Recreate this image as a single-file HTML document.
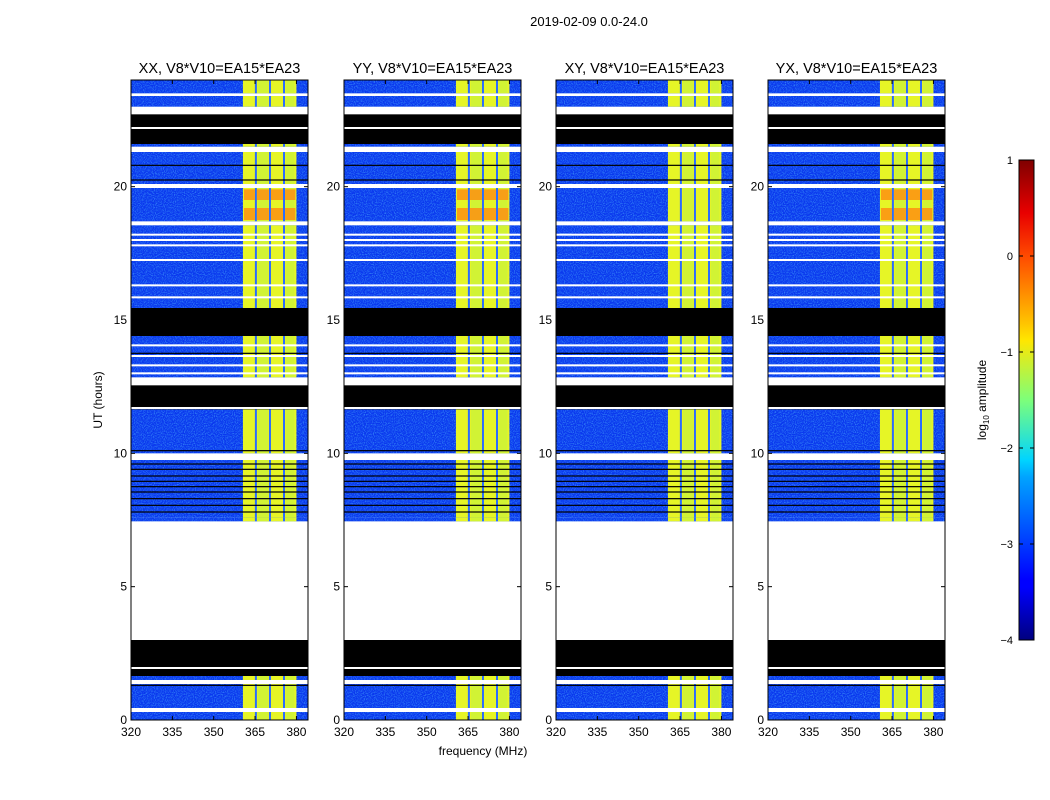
<!DOCTYPE html>
<html><head><meta charset="utf-8"><style>
body{margin:0;background:#fff;}
svg{display:block;font-family:"Liberation Sans",sans-serif;}
</style></head><body>
<svg id="fig" width="1050" height="800" viewBox="0 0 1050 800" xmlns="http://www.w3.org/2000/svg">
<defs>
<filter id="noise" x="0" y="0" width="100%" height="100%">
<feTurbulence type="fractalNoise" baseFrequency="0.9" numOctaves="1" seed="3" result="t"/>
<feColorMatrix type="matrix" values="0 0 0 0 0.1  0 0 0 0 0.6  0 0 0 0 1  0 0 0 1.4 -0.6"/>
</filter>
<linearGradient id="jet" x1="0" y1="1" x2="0" y2="0">
<stop offset="0" stop-color="#00007f"/><stop offset="0.11" stop-color="#0000ff"/>
<stop offset="0.125" stop-color="#0000ff"/><stop offset="0.34" stop-color="#00a4ff"/>
<stop offset="0.375" stop-color="#00d4ff"/><stop offset="0.5" stop-color="#7dff7a"/>
<stop offset="0.625" stop-color="#ffe600"/><stop offset="0.66" stop-color="#ffc400"/>
<stop offset="0.8" stop-color="#ff4a00"/><stop offset="0.89" stop-color="#e80000"/>
<stop offset="1" stop-color="#7f0000"/>
</linearGradient>
</defs>
<text x="589" y="26" font-size="13" text-anchor="middle">2019-02-09 0.0-24.0</text>
<text x="483" y="755" font-size="12" text-anchor="middle">frequency (MHz)</text>
<text transform="translate(102,400) rotate(-90)" font-size="12" text-anchor="middle">UT (hours)</text>
<g id="panels"></g>
<g id="cbar"></g>
</svg>
<script>
// ---- data ----
const panelTitles = ["XX, V8*V10=EA15*EA23","YY, V8*V10=EA15*EA23","XY, V8*V10=EA15*EA23","YX, V8*V10=EA15*EA23"];
const panelLefts = [131, 344, 556, 768];
const yTicks = [0,5,10,15,20];
const xTicks = [320,335,350,365,380];
// time segments [startHour, endHour, type]
const segStart = [0,0.3,0.45,1.35,1.5,1.65,3.0,7.45,7.6,9.75,10.0,11.65,12.55,12.85,14.4,15.45,18.55,18.7,19.95,20.1,21.3,21.5,21.6,22.75,23.0,23.4,23.5];
const segEnd   = [0.3,0.45,1.35,1.5,1.65,3.0,7.45,7.6,9.75,10.0,11.65,12.55,12.85,14.4,15.45,18.55,18.7,19.95,20.1,21.3,21.5,21.6,22.75,23.0,23.4,23.5,24];
const segType  = ["d","w","d","w","d","b","w","d","d","w","d","b","w","d","b","d","w","d","w","d","w","d","b","w","d","w","d"];
const whiteLines = [1.95,11.7,12.6,13.0,13.3,13.65,14.05,15.85,16.3,17.25,17.8,18.0,18.2,22.2,22.75];
const blackLines = [1.3,7.8,8.05,8.3,8.55,8.75,8.95,9.15,9.4,9.6,10.1,20.25,20.8,13.75];
const bandStart = 360.6, bandEnd = 380.0;
const bandDividers = [365.3, 370.4, 375.5];
const hotStart = [18.75, 19.5];
const hotEnd = [19.2, 19.9];
const hotPanels = [[0,1,3],[0,1,3]];
const fMin = 320, fMax = 384.2, hMin = 0, hMax = 24;
// ---- axes ----
const plotTop = 80, plotBottom = 720, pw = 177;
function yOf(h){ return plotBottom - (h-hMin)/(hMax-hMin)*(plotBottom-plotTop); }
function xOf(f, left){ return left + (f-fMin)/(fMax-fMin)*pw; }
const NS = "http://www.w3.org/2000/svg";
function mk(tag, attrs, parent){ const e=document.createElementNS(NS,tag); for(const k in attrs) e.setAttribute(k,attrs[k]); parent.appendChild(e); return e; }
const root = document.getElementById('panels');
panelLefts.forEach((L, p) => {
  const g = mk('g', {}, root);
  
  
  const bx0 = xOf(bandStart, L), bx1 = xOf(bandEnd, L);
  const cols = [bandStart].concat(bandDividers).concat([bandEnd]);
  for (let i=0;i<segStart.length;i++){
    const y0 = yOf(segEnd[i]), y1 = yOf(segStart[i]);
    const t = segType[i];
    if (t==='w') continue;
    if (t==='b'){
      const r = mk('rect',{x:L,y:y0,width:pw,height:y1-y0,fill:'#000'},g);
      
      
      continue;
    }
    const r = mk('rect',{x:L,y:y0,width:pw,height:y1-y0,fill:'#0a38ee'},g);
    
    
    const n = mk('rect',{x:L,y:y0,width:pw,height:y1-y0,fill:'#000',filter:'url(#noise)'},g);
    
    
    const b = mk('rect',{x:bx0,y:y0,width:bx1-bx0,height:y1-y0,fill:'#e6f526'},g);
    
    
    for (let c=0;c<cols.length-1;c++){
      if (c%2===1){
        const s = mk('rect',{x:xOf(cols[c],L)+2,y:y0,width:xOf(cols[c+1],L)-xOf(cols[c],L)-4,height:y1-y0,fill:'#c8f23a',opacity:0.7},g);
        
        
      }
    }
    bandDividers.forEach(f => {
      const v = mk('rect',{x:xOf(f,L)-1,y:y0,width:2,height:y1-y0,fill:'#2a6cff'},g);
      
      
    });
  }
  for (let k=0;k<hotStart.length;k++){
    if (hotPanels[k].indexOf(p)<0) continue;
    const y0=yOf(hotEnd[k]), y1=yOf(hotStart[k]);
    for (let c=0;c<cols.length-1;c++){
      const h = mk('rect',{x:xOf(cols[c],L)+1,y:y0,width:xOf(cols[c+1],L)-xOf(cols[c],L)-2,height:y1-y0,fill:'#ff8a10',opacity:0.8},g);
      
      
    }
  }
  whiteLines.forEach(h => {
    const l = mk('rect',{x:L,y:yOf(h)-1,width:pw,height:2,fill:'#fff'},g);
    
    
  });
  blackLines.forEach(h => {
    const l = mk('rect',{x:L,y:yOf(h)-0.6,width:pw,height:1.2,fill:'#000'},g);
    
    
  });
  const fr = mk('rect',{x:L,y:plotTop,width:pw,height:plotBottom-plotTop,fill:'none',stroke:'#000','stroke-width':1},g);
  
  
  const tt = mk('text',{x:L+pw/2,y:73,'font-size':14.5,'text-anchor':'middle'},g);
  tt.textContent = panelTitles[p];
  
  
  yTicks.forEach(v => {
    const y = yOf(v);
    mk('line',{x1:L,x2:L+4,y1:y,y2:y,stroke:'#000'},g);
    mk('line',{x1:L+pw-4,x2:L+pw,y1:y,y2:y,stroke:'#000'},g);
    const t = mk('text',{x:L-4,y:y+4,'font-size':12,'text-anchor':'end'},g);
    t.textContent = v;
    
    
  });
  xTicks.forEach(v => {
    const x = xOf(v,L);
    mk('line',{x1:x,x2:x,y1:plotBottom,y2:plotBottom-4,stroke:'#000'},g);
    mk('line',{x1:x,x2:x,y1:plotTop,y2:plotTop+4,stroke:'#000'},g);
    const t = mk('text',{x:x,y:736,'font-size':12,'text-anchor':'middle'},g);
    t.textContent = v;
    
    
  });
});
// ---- colorbar ----
const cbTicks = [1,0,-1,-2,-3,-4];
const cb = document.getElementById('cbar');
const cbTop=160, cbBot=640, cbL=1019, cbW=15;
function cbY(v){ return cbBot - (v-(-4))/5*(cbBot-cbTop); }
mk('rect',{x:cbL,y:cbTop,width:cbW,height:cbBot-cbTop,fill:'url(#jet)',stroke:'#000'},cb);
cbTicks.forEach(v => {
  const y = cbY(v);
  mk('line',{x1:cbL,x2:cbL+4,y1:y,y2:y,stroke:'#000'},cb);
  mk('line',{x1:cbL+cbW-4,x2:cbL+cbW,y1:y,y2:y,stroke:'#000'},cb);
  const t = mk('text',{x:1013,y:y+4,'font-size':11,'text-anchor':'end'},cb);
  t.textContent = v<0 ? '\u2212'+(-v) : v;
  
  
});
const lab = mk('text',{transform:'translate(986,400) rotate(-90)','font-size':12,'text-anchor':'middle'},cb);
lab.innerHTML = 'log<tspan font-size="8" dy="3">10</tspan><tspan dy="-3"> amplitude</tspan>';


</script>
</body></html>
